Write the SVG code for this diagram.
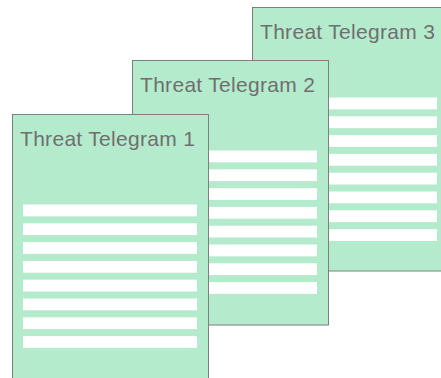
<svg xmlns="http://www.w3.org/2000/svg" width="441" height="378" viewBox="0 0 441 378">
  <style>
    .sheet { fill: #b5ebcd; stroke: #7f7f7f; stroke-width: 1; }
    .line { fill: #ffffff; }
    .title { font-family: "Liberation Sans", Arial, sans-serif; font-size: 21px; letter-spacing: 0.3px; fill: #6f6f6f; }
  </style>
  <defs>
    <!-- eight text lines of a telegram sheet -->
    <g id="lines">
      <rect class="line" x="10.5" y="90" width="174" height="11.8"/>
      <rect class="line" x="10.5" y="108.8" width="174" height="11.8"/>
      <rect class="line" x="10.5" y="127.6" width="174" height="11.8"/>
      <rect class="line" x="10.5" y="146.4" width="174" height="11.8"/>
      <rect class="line" x="10.5" y="165.2" width="174" height="11.8"/>
      <rect class="line" x="10.5" y="184" width="174" height="11.8"/>
      <rect class="line" x="10.5" y="202.8" width="174" height="11.8"/>
      <rect class="line" x="10.5" y="221.6" width="174" height="11.8"/>
    </g>
  </defs>

  <g id="telegram3" transform="translate(252.5,7.5)">
    <rect class="sheet" x="0" y="0" width="196" height="263.5"/>
    <use href="#lines"/>
    <text class="title" x="7.5" y="31">Threat Telegram 3</text>
  </g>

  <g id="telegram2" transform="translate(132.5,60.5)">
    <rect class="sheet" x="0" y="0" width="196" height="264.5"/>
    <use href="#lines"/>
    <text class="title" x="7.5" y="31">Threat Telegram 2</text>
  </g>

  <g id="telegram1" transform="translate(12.5,114.5)">
    <rect class="sheet" x="0" y="0" width="196" height="280"/>
    <use href="#lines"/>
    <text class="title" x="7.5" y="31">Threat Telegram 1</text>
  </g>

  <g id="connectors"></g>
</svg>
